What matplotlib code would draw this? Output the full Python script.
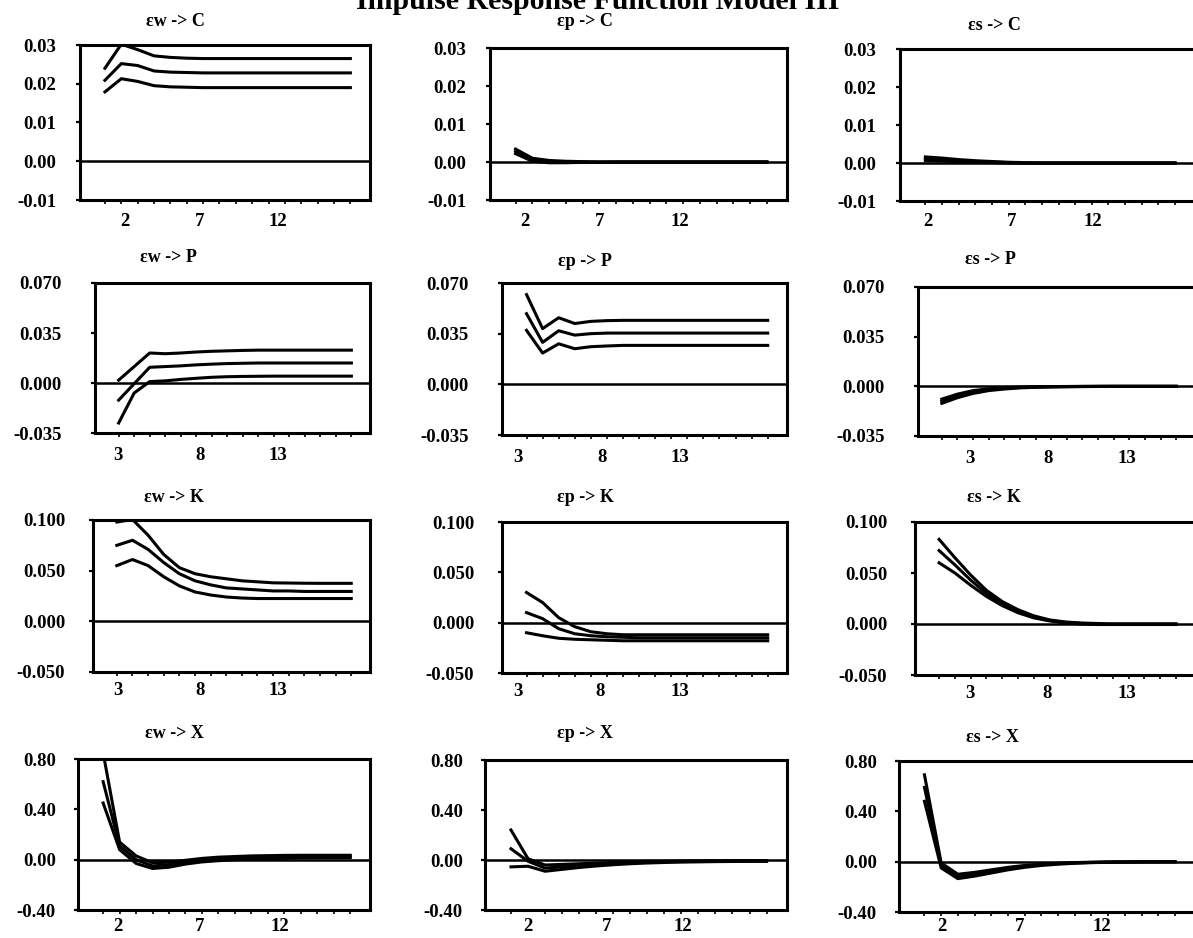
import numpy as np
import matplotlib.pyplot as plt

plt.rcParams['font.family'] = ['Liberation Serif', 'DejaVu Serif']
plt.rcParams['font.weight'] = 'bold'

periods = np.arange(1, 17)

shocks = ['εw', 'εp', 'εs']
variables = ['C', 'P', 'K', 'X']

# impulse responses: [upper band, response, lower band]
ew_C = [[0.0240, 0.0302, 0.0288, 0.0272, 0.0268, 0.0266, 0.0265, 0.0265, 0.0265, 0.0265, 0.0265, 0.0265, 0.0265, 0.0265, 0.0265, 0.0265],
        [0.0209, 0.0252, 0.0247, 0.0233, 0.0230, 0.0229, 0.0228, 0.0228, 0.0228, 0.0228, 0.0228, 0.0228, 0.0228, 0.0228, 0.0228, 0.0228],
        [0.0179, 0.0213, 0.0206, 0.0195, 0.0192, 0.0191, 0.0190, 0.0190, 0.0190, 0.0190, 0.0190, 0.0190, 0.0190, 0.0190, 0.0190, 0.0190]]
ep_C = [[0.0034, 0.0010, 0.0004, 0.0002, 0.0001, 0.0000, 0.0000, 0.0000, 0.0000, 0.0000, 0.0000, 0.0000, 0.0000, 0.0000, 0.0000, 0.0000],
        [0.0028, 0.0006, 0.0001, 0.0000, 0.0000, 0.0000, 0.0000, 0.0000, 0.0000, 0.0000, 0.0000, 0.0000, 0.0000, 0.0000, 0.0000, 0.0000],
        [0.0022, 0.0002, -0.0002, -0.0002, -0.0001, -0.0001, 0.0000, 0.0000, 0.0000, 0.0000, 0.0000, 0.0000, 0.0000, 0.0000, 0.0000, 0.0000]]
es_C = [[0.0016, 0.0013, 0.0009, 0.0006, 0.0004, 0.0002, 0.0001, 0.0000, 0.0000, 0.0000, 0.0000, 0.0000, 0.0000, 0.0000, 0.0000, 0.0000],
        [0.0011, 0.0009, 0.0006, 0.0004, 0.0002, 0.0001, 0.0000, 0.0000, 0.0000, 0.0000, 0.0000, 0.0000, 0.0000, 0.0000, 0.0000, 0.0000],
        [0.0006, 0.0005, 0.0003, 0.0002, 0.0001, 0.0000, 0.0000, 0.0000, 0.0000, 0.0000, 0.0000, 0.0000, 0.0000, 0.0000, 0.0000, 0.0000]]

ew_P = [[0.002, 0.0115, 0.021, 0.0205, 0.021, 0.0217, 0.0222, 0.0225, 0.0228, 0.023, 0.023, 0.023, 0.023, 0.023, 0.023, 0.023],
        [-0.012, -0.0005, 0.011, 0.0115, 0.012, 0.0127, 0.0132, 0.0136, 0.0138, 0.014, 0.014, 0.014, 0.014, 0.014, 0.014, 0.014],
        [-0.028, -0.007, 0.001, 0.0015, 0.0025, 0.0033, 0.004, 0.0044, 0.0046, 0.0047, 0.0048, 0.0048, 0.0048, 0.0048, 0.0048, 0.0048]]
ep_P = [[0.062, 0.0385, 0.046, 0.042, 0.0435, 0.044, 0.0442, 0.0442, 0.0442, 0.0442, 0.0442, 0.0442, 0.0442, 0.0442, 0.0442, 0.0442],
        [0.0488, 0.029, 0.037, 0.034, 0.035, 0.0354, 0.0354, 0.0354, 0.0354, 0.0354, 0.0354, 0.0354, 0.0354, 0.0354, 0.0354, 0.0354],
        [0.0373, 0.0216, 0.028, 0.0246, 0.026, 0.0265, 0.0269, 0.0269, 0.0269, 0.0269, 0.0269, 0.0269, 0.0269, 0.0269, 0.0269, 0.0269]]
es_P = [[-0.009, -0.0055, -0.003, -0.0017, -0.001, -0.0005, -0.0003, -0.0002, -0.0001, 0.0, 0.0, 0.0, 0.0, 0.0, 0.0, 0.0],
        [-0.0105, -0.0067, -0.004, -0.0024, -0.0014, -0.0008, -0.0005, -0.0003, -0.0002, -0.0001, 0.0, 0.0, 0.0, 0.0, 0.0, 0.0],
        [-0.012, -0.008, -0.005, -0.003, -0.0019, -0.0011, -0.0007, -0.0004, -0.0003, -0.0002, -0.0001, 0.0, 0.0, 0.0, 0.0, 0.0]]

ew_K = [[0.098, 0.1005, 0.085, 0.066, 0.053, 0.047, 0.044, 0.042, 0.040, 0.039, 0.038, 0.0378, 0.0376, 0.0375, 0.0375, 0.0375],
        [0.075, 0.080, 0.071, 0.058, 0.047, 0.040, 0.036, 0.033, 0.032, 0.031, 0.030, 0.030, 0.0295, 0.0295, 0.0295, 0.0295],
        [0.055, 0.061, 0.055, 0.044, 0.035, 0.029, 0.026, 0.024, 0.023, 0.0225, 0.0225, 0.0225, 0.0225, 0.0225, 0.0225, 0.0225]]
ep_K = [[0.030, 0.020, 0.005, -0.004, -0.009, -0.011, -0.012, -0.012, -0.012, -0.012, -0.012, -0.012, -0.012, -0.012, -0.012, -0.012],
        [0.010, 0.004, -0.006, -0.011, -0.013, -0.014, -0.0145, -0.015, -0.015, -0.015, -0.015, -0.015, -0.015, -0.015, -0.015, -0.015],
        [-0.010, -0.013, -0.0155, -0.0165, -0.017, -0.0175, -0.018, -0.018, -0.018, -0.018, -0.018, -0.018, -0.018, -0.018, -0.018, -0.018]]
es_K = [[0.083, 0.065, 0.048, 0.033, 0.022, 0.014, 0.008, 0.004, 0.002, 0.001, 0.0005, 0.0, 0.0, 0.0, 0.0, 0.0],
        [0.072, 0.058, 0.043, 0.030, 0.020, 0.012, 0.007, 0.0035, 0.0015, 0.0005, 0.0, 0.0, 0.0, 0.0, 0.0, 0.0],
        [0.060, 0.050, 0.038, 0.027, 0.018, 0.011, 0.006, 0.003, 0.001, 0.0, -0.0005, -0.0005, -0.0005, -0.0005, -0.0005, -0.0005]]

ew_X = [[0.85, 0.14, 0.03, -0.025, -0.02, -0.005, 0.01, 0.02, 0.025, 0.03, 0.032, 0.034, 0.035, 0.035, 0.035, 0.035],
        [0.62, 0.11, 0.0, -0.05, -0.04, -0.02, -0.005, 0.005, 0.012, 0.017, 0.02, 0.022, 0.024, 0.025, 0.025, 0.025],
        [0.45, 0.08, -0.03, -0.07, -0.06, -0.035, -0.018, -0.008, 0.0, 0.005, 0.008, 0.011, 0.013, 0.014, 0.015, 0.015]]
ep_X = [[0.24, 0.01, -0.04, -0.035, -0.03, -0.025, -0.02, -0.015, -0.01, -0.01, -0.008, -0.007, -0.006, -0.005, -0.005, -0.005],
        [0.09, -0.01, -0.065, -0.055, -0.045, -0.035, -0.028, -0.02, -0.016, -0.013, -0.011, -0.01, -0.009, -0.008, -0.008, -0.008],
        [-0.055, -0.05, -0.09, -0.075, -0.06, -0.048, -0.038, -0.03, -0.024, -0.02, -0.017, -0.015, -0.013, -0.012, -0.011, -0.011]]
es_X = [[0.69, -0.01, -0.10, -0.085, -0.065, -0.045, -0.03, -0.02, -0.012, -0.007, -0.004, -0.002, -0.001, 0.0, 0.0, 0.0],
        [0.59, -0.03, -0.12, -0.10, -0.075, -0.055, -0.038, -0.025, -0.016, -0.01, -0.006, -0.003, -0.002, -0.001, 0.0, 0.0],
        [0.48, -0.05, -0.135, -0.115, -0.09, -0.065, -0.045, -0.03, -0.02, -0.013, -0.008, -0.005, -0.003, -0.002, -0.001, 0.0]]

responses = [[ew_C, ep_C, es_C],
             [ew_P, ep_P, es_P],
             [ew_K, ep_K, es_K],
             [ew_X, ep_X, es_X]]

y_ticks = [[-0.01, 0.00, 0.01, 0.02, 0.03],
           [-0.035, 0.000, 0.035, 0.070],
           [-0.05, 0.00, 0.05, 0.10],
           [-0.40, 0.00, 0.40, 0.80]]
y_labels = [['-0.01', '0.00', '0.01', '0.02', '0.03'],
            ['-0.035', '0.000', '0.035', '0.070'],
            ['-0.050', '0.000', '0.050', '0.100'],
            ['-0.40', '0.00', '0.40', '0.80']]
x_labels = [['2', '7', '12'],
            ['3', '8', '13'],
            ['3', '8', '13'],
            ['2', '7', '12']]

# panel frames in pixels: left, right, top, bottom
W, H = 1193, 938
boxes = [[(80, 370, 45, 200), (490, 787, 48, 200), (900, 1195, 49, 201)],
         [(95, 370, 283, 433), (502, 787, 283, 435), (918, 1195, 287, 436)],
         [(93, 370, 520, 672), (502, 787, 522, 673), (915, 1195, 522, 675)],
         [(78, 370, 759, 910), (485, 787, 760, 910), (899, 1195, 761, 912)]]
# where the period labels sit along each axis
tick_pos = [[[2.22, 6.81, 11.58], [1.56, 6.04, 10.82], [1.15, 6.18, 11.04]],
            [[0.96, 6.25, 11.27], [0.47, 5.70, 10.55], [2.79, 7.77, 12.87]],
            [[1.07, 6.32, 11.32], [0.47, 5.57, 10.55], [2.94, 7.86, 12.91]],
            [[1.90, 6.88, 11.74], [2.00, 6.64, 11.10], [2.04, 6.70, 11.60]]]
title_pos = [[(175, 21), (585, 22), (994, 25)],
             [(168, 258), (585, 261), (990, 260)],
             [(174, 497), (585, 497), (994, 497)],
             [(174, 733), (585, 733), (992, 737)]]
y_pad = [14, 21, 17, 13]
x_pad = [[9, 9, 9], [10, 10, 10], [7, 7, 7], [6, 6, 4.5]]

fig = plt.figure(figsize=(W / 100, H / 100), dpi=100)

for r in range(4):
    for c in range(3):
        l, rt, t, b = boxes[r][c]
        ax = fig.add_axes([l / W, 1 - b / H, (rt - l) / W, (b - t) / H])
        ax.axhline(0, color='black', lw=1.8, zorder=1)
        for series in responses[r][c]:
            ax.plot(periods, series, color='black', lw=2.2, zorder=2)
        ax.set_xlim(-0.525, 17.2)
        ax.set_ylim(y_ticks[r][0], y_ticks[r][-1])
        ax.set_yticks(y_ticks[r])
        ax.set_yticklabels(y_labels[r], fontsize=13.5, fontweight='bold')
        ax.set_xticks(tick_pos[r][c])
        ax.set_xticklabels(x_labels[r], fontsize=13.5, fontweight='bold')
        ax.set_xticks(periods, minor=True)
        ax.tick_params(axis='x', which='major', length=0, pad=x_pad[r][c])
        ax.tick_params(axis='x', which='minor', length=3, width=1.2, direction='out')
        ax.tick_params(axis='y', length=3, width=1.6, direction='out', pad=y_pad[r])
        for s in ax.spines.values():
            s.set_linewidth(2.2)
        tx, ty = title_pos[r][c]
        fig.text(tx / W, 1 - ty / H, shocks[c] + ' -> ' + variables[r],
                 ha='center', va='center', fontsize=13, fontweight='bold')

fig.text(598 / W, 1 - 9 / H, 'Impulse Response Function Model III',
         ha='center', va='baseline', fontsize=21.5, fontweight='bold')

fig.savefig('out.png', dpi=100)
